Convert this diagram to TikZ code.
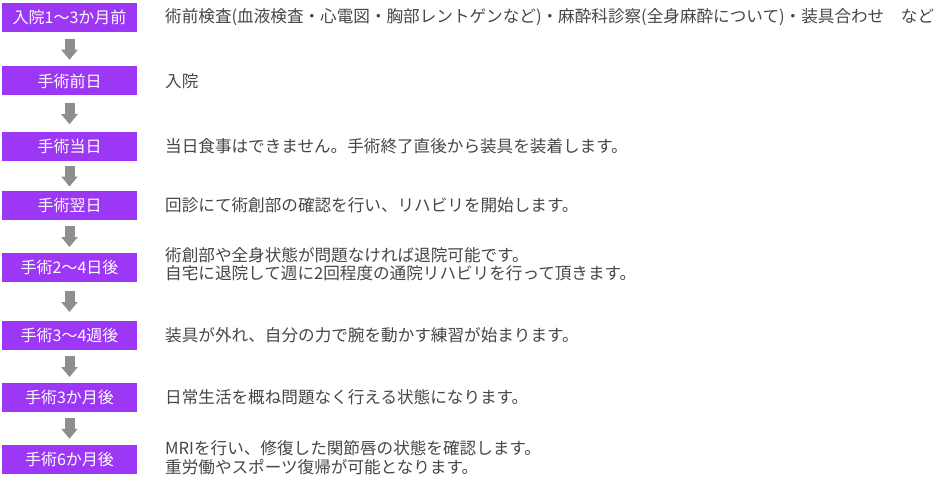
\documentclass[tikz,border=0pt]{standalone}
\usepackage{fontspec}
\setmainfont{Noto Sans CJK JP}
\usetikzlibrary{arrows.meta,calc}
\definecolor{boxpurple}{RGB}{155,55,245}
\definecolor{arrowgray}{RGB}{142,142,142}
\definecolor{txtgray}{RGB}{70,70,70}
\begin{document}
\begin{tikzpicture}[x=1pt,y=-1pt,
  stagebox/.style={fill=boxpurple,minimum width=135pt,minimum height=29pt,inner sep=0pt,
    text=white,font=\fontsize{16}{19}\selectfont},
  desc/.style={anchor=west,inner sep=0pt,align=left,text=txtgray,
    font=\fontsize{16.6}{18.5}\selectfont},
  flowarrow/.style={draw=arrowgray,line width=10pt,
    -{Triangle[width=16pt,length=10pt,fill=arrowgray]}}
]
\useasboundingbox (0,0) rectangle (942,484);
\node[stagebox] (b1) at (69.5,17.5) {入院1〜3か月前};
\node[stagebox] (b2) at (69.5,81) {手術前日};
\node[stagebox] (b3) at (69.5,146.5) {手術当日};
\node[stagebox] (b4) at (69.5,205.5) {手術翌日};
\node[stagebox] (b5) at (69.5,267.5) {手術2〜4日後};
\node[stagebox] (b6) at (69.5,335.5) {手術3〜4週後};
\node[stagebox] (b7) at (69.5,397.5) {手術3か月後};
\node[stagebox] (b8) at (69.5,459) {手術6か月後};

\node[desc] (t1) at (165,17.5) {術前検査(血液検査・心電図・胸部レントゲンなど)・麻酔科診察(全身麻酔について)・装具合わせ　など};
\node[desc] (t2) at (165,81) {入院};
\node[desc] (t3) at (165,146.5) {当日食事はできません。手術終了直後から装具を装着します。};
\node[desc] (t4) at (165,205.5) {回診にて術創部の確認を行い、リハビリを開始します。};
\node[desc] (t5) at (165,264) {術創部や全身状態が問題なければ退院可能です。\\自宅に退院して週に2回程度の通院リハビリを行って頂きます。};
\node[desc] (t6) at (165,335.5) {装具が外れ、自分の力で腕を動かす練習が始まります。};
\node[desc] (t7) at (165,397.5) {日常生活を概ね問題なく行える状態になります。};
\node[desc] (t8) at (165,457.5) {MRIを行い、修復した関節唇の状態を確認します。\\重労働やスポーツ復帰が可能となります。};

\foreach \a/\b in {b1/b2,b2/b3,b3/b4,b4/b5,b5/b6,b6/b7,b7/b8}{
  \coordinate (m-\a) at ($(\a.south)!0.5!(\b.north)$);
  \draw[flowarrow] ($(m-\a)+(0,-10.5)$) -- ($(m-\a)+(0,10.5)$);
}
\end{tikzpicture}
\end{document}
